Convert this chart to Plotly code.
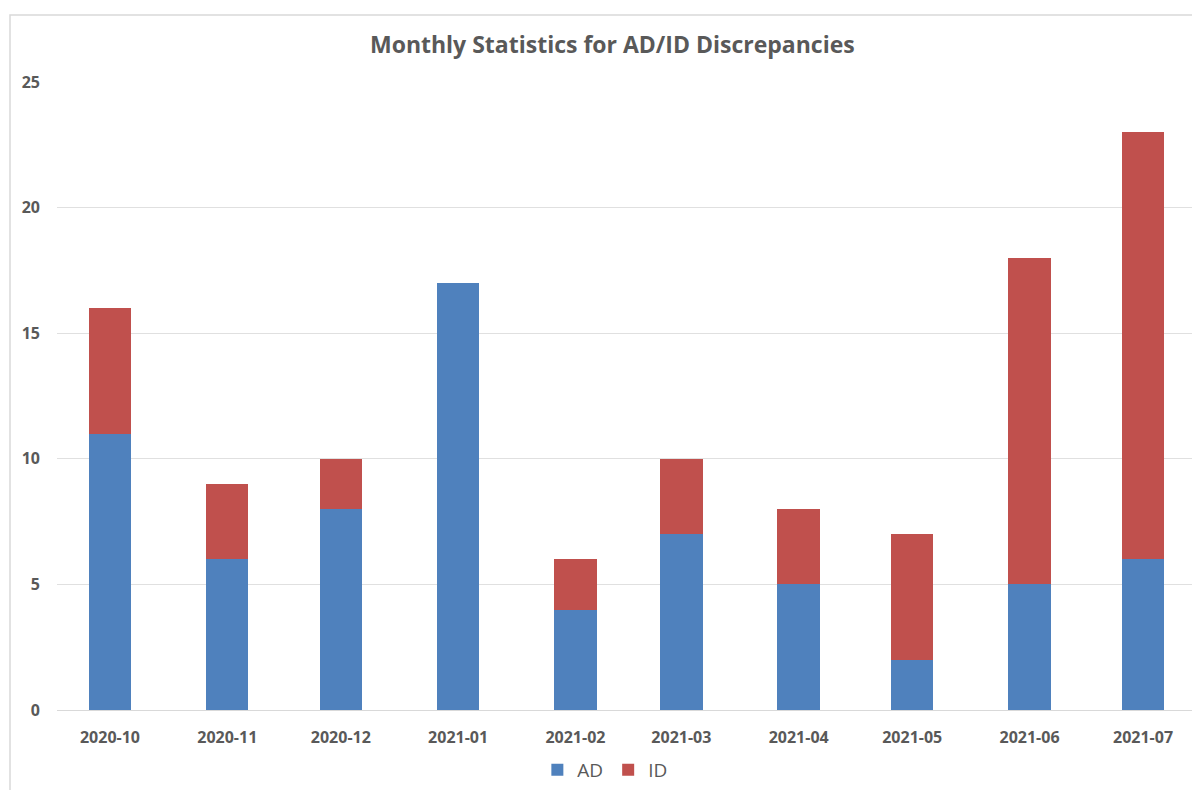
import plotly.graph_objects as go

months = ["2020-10", "2020-11", "2020-12", "2021-01", "2021-02",
          "2021-03", "2021-04", "2021-05", "2021-06", "2021-07"]
ad_values = [11, 6, 8, 17, 4, 7, 5, 2, 5, 6]
id_values = [5, 3, 2, 0, 2, 3, 3, 5, 13, 17]
y_ticks = [0, 5, 10, 15, 20, 25]

FONT = "Open Sans, Liberation Sans, Arial, sans-serif"
GRAY = "#595959"

fig = go.Figure()
fig.add_trace(go.Bar(x=months, y=ad_values, name="AD",
                     marker=dict(color="#4F81BD", line=dict(width=0))))
fig.add_trace(go.Bar(x=months, y=id_values, name="ID",
                     marker=dict(color="#C0504D", line=dict(width=0))))

W, H = 1192, 782
L, T, R = 49, 74, 4
PH = 628
fig.update_layout(
    barmode="stack",
    bargap=0.6,
    width=W, height=H,
    margin=dict(l=L, r=R, t=T, b=H - T - PH, autoexpand=False),
    paper_bgcolor="white", plot_bgcolor="white",
    title=dict(text="<b>Monthly Statistics for AD/ID Discrepancies</b>",
               x=0.507, xanchor="center", y=0.953, yanchor="middle",
               font=dict(family=FONT, size=23, color=GRAY)),
    legend=dict(orientation="h", x=0.481, xanchor="center",
                yref="container", y=1 - 762 / H, yanchor="middle",
                font=dict(family=FONT, size=19, color=GRAY), traceorder="normal",
                itemwidth=30),
    showlegend=True,
)
fig.update_xaxes(showgrid=False, showline=True, linecolor="#d9d9d9", linewidth=1,
                 tickfont=dict(family=FONT, size=16, color=GRAY),
                 ticks="", ticklabelstandoff=13,
                 tickvals=months, ticktext=[f"<b>{m}</b>" for m in months])
fig.update_yaxes(range=[0, 25], tickvals=y_ticks,
                 ticktext=[f"<b>{t}</b>" for t in y_ticks],
                 showgrid=True, gridcolor="#e0e0e0", gridwidth=1,
                 zeroline=False, showline=False, ticks="",
                 ticklabelstandoff=16,
                 tickfont=dict(family=FONT, size=16, color=GRAY))

fig.add_shape(type="rect", xref="paper", yref="paper",
              x0=(10 - 57) / 1139, x1=1.2, y0=-0.3, y1=(710 - 15) / 628,
              line=dict(color="#d9d9d9", width=1.5), fillcolor="rgba(0,0,0,0)",
              layer="below")

fig.write_html("out.html")
